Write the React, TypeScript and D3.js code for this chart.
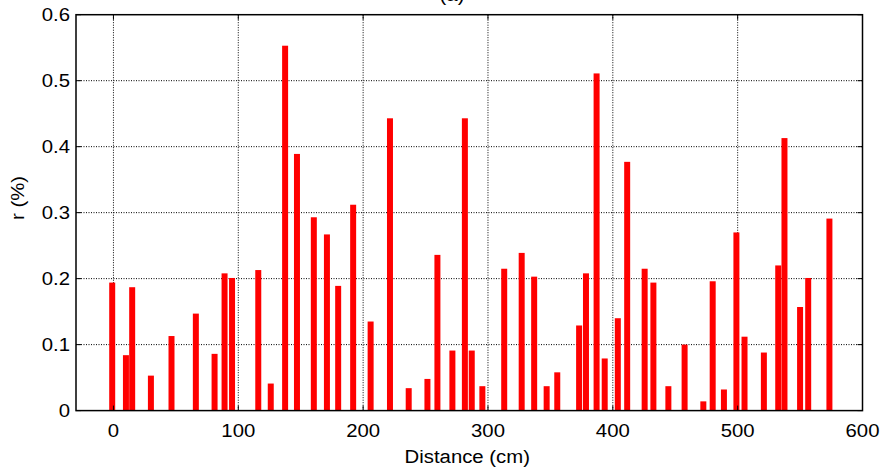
import React from "react";
import * as d3 from "d3";

const distances = [-1, 10, 15, 30, 46.5, 66, 81, 89, 95, 116, 126, 137.5, 147, 160.5, 171, 180, 192, 206, 221.5, 236.5, 251.5, 259.5, 271.5, 281.5, 287, 295.5, 313, 327, 337, 347, 355.5, 373, 378.5, 387, 393.5, 404, 411.5, 425.5, 432.5, 444.5, 457.5, 472.5, 480, 489, 499, 505.5, 521, 532.5, 537.5, 550, 556.5, 573.5];
const values = [0.194, 0.084, 0.187, 0.053, 0.113, 0.147, 0.086, 0.208, 0.201, 0.213, 0.041, 0.553, 0.389, 0.293, 0.267, 0.189, 0.312, 0.135, 0.443, 0.034, 0.048, 0.236, 0.091, 0.443, 0.091, 0.037, 0.215, 0.239, 0.203, 0.037, 0.058, 0.129, 0.208, 0.511, 0.079, 0.140, 0.377, 0.215, 0.194, 0.037, 0.100, 0.014, 0.196, 0.032, 0.270, 0.112, 0.088, 0.220, 0.413, 0.157, 0.201, 0.291];
const xTicks = [0, 100, 200, 300, 400, 500, 600];
const yTicks = [0, 0.1, 0.2, 0.3, 0.4, 0.5, 0.6];
const xDomain: [number, number] = [-30, 600];
const yDomain: [number, number] = [0, 0.6];

const W = 883, H = 472;
const L = 76, R = 862.5, T = 14.7, B = 410.6;
const FONT = "'Liberation Sans', Arial, sans-serif";
const BAR_W = 4.8;
const FS = 18;
const SX = 1.13;

function T2({ x, y, anchor, children, rotate }: any) {
  const tr = rotate ? `translate(${x},${y}) rotate(${rotate}) scale(${SX},1)` : `translate(${x},${y}) scale(${SX},1)`;
  return (
    <text transform={tr} textAnchor={anchor} fontSize={FS} fill="#000">{children}</text>
  );
}

export default function App() {
  const x = d3.scaleLinear().domain(xDomain).range([L, R]);
  const y = d3.scaleLinear().domain(yDomain).range([B, T]);
  const data = distances.map((d, i) => ({ d, v: values[i] }));
  const bw = x(BAR_W) - x(0);
  return (
    <svg width={W} height={H} style={{ position: "absolute", left: 0, top: 0, background: "#fff" }} fontFamily={FONT}>
      <rect x={0} y={0} width={W} height={H} fill="#fff" />
      {xTicks.filter(t => t > xDomain[0] && t < xDomain[1]).map(t => (
        <line key={"gx" + t} x1={x(t)} x2={x(t)} y1={T} y2={B} stroke="#000" strokeWidth={1} strokeDasharray="1,1.5" />
      ))}
      {yTicks.filter(t => t > yDomain[0] && t < yDomain[1]).map(t => (
        <line key={"gy" + t} x1={L} x2={R} y1={y(t)} y2={y(t)} stroke="#000" strokeWidth={1} strokeDasharray="1,1.5" />
      ))}
      {data.map((p, i) => (
        <rect key={i} x={x(p.d) - bw / 2} y={y(p.v)} width={bw} height={y(0) - y(p.v)} fill="#ff0000" />
      ))}
      {xTicks.map(t => (
        <g key={"tx" + t}>
          <line x1={x(t)} x2={x(t)} y1={B} y2={B - 5} stroke="#000" strokeWidth={1} />
          <line x1={x(t)} x2={x(t)} y1={T} y2={T + 5} stroke="#000" strokeWidth={1} />
          <T2 x={x(t)} y={436.5} anchor="middle">{t}</T2>
        </g>
      ))}
      {yTicks.map(t => (
        <g key={"ty" + t}>
          <line x1={L} x2={L + 5} y1={y(t)} y2={y(t)} stroke="#000" strokeWidth={1} />
          <line x1={R} x2={R - 5} y1={y(t)} y2={y(t)} stroke="#000" strokeWidth={1} />
          <T2 x={70} y={y(t) + 6.4} anchor="end">{d3.format("")(t)}</T2>
        </g>
      ))}
      <rect x={L} y={T} width={R - L} height={B - T} fill="none" stroke="#000" strokeWidth={1.5} />
      <T2 x={(L + R) / 2 - 2} y={463} anchor="middle">Distance (cm)</T2>
      <text transform={`translate(24,198) rotate(-90) scale(${SX},1)`} textAnchor="middle" fontSize={FS} fill="#000">r (%)</text>
      <T2 x={452} y={1} anchor="middle">(a)</T2>
    </svg>
  );
}
